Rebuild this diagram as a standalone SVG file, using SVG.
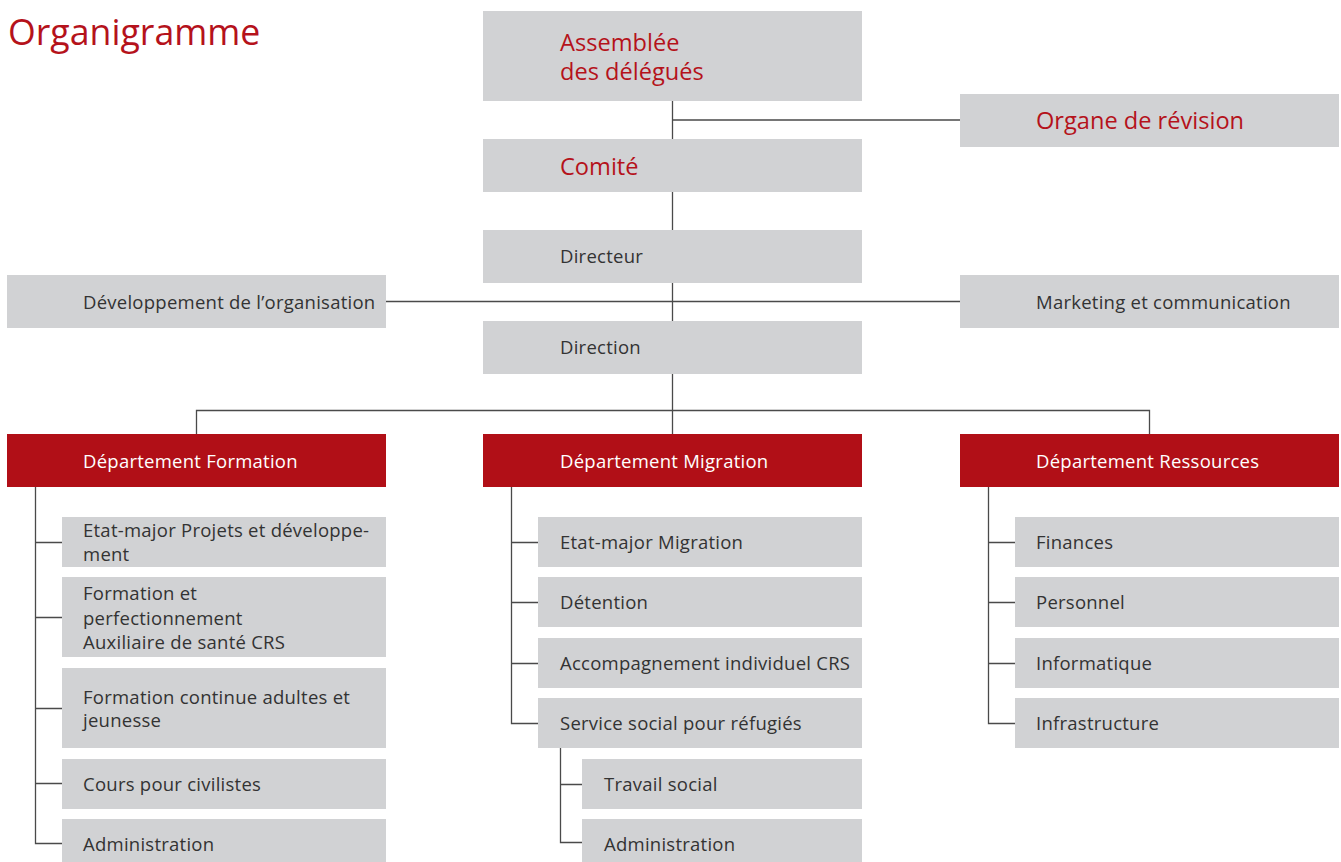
<svg xmlns="http://www.w3.org/2000/svg" width="1341" height="862" viewBox="0 0 1341 862">
<style>
.g{fill:#d1d2d4}
.r{fill:#b10f17}
.t{font-family:"Open Sans","Noto Sans",sans-serif;font-size:18.5px;letter-spacing:0.25px;fill:#333333}
.w{font-family:"Open Sans","Noto Sans",sans-serif;font-size:18.5px;letter-spacing:0.25px;fill:#ffffff}
.rt{font-family:"Open Sans","Noto Sans",sans-serif;font-size:23.6px;fill:#b5121b}
.c{fill:none;stroke:#4a4a4a;stroke-width:1.3}
</style>
<rect width="1341" height="862" fill="#ffffff"/>
<text x="8" y="45" font-family="'Open Sans','Noto Sans',sans-serif" font-size="35.7" fill="#b5121b">Organigramme</text>
<g id="connectors">
<path class="c" d="M672.5 101V139M672.5 120H960M672.5 192V230M672.5 283V321M386 301.5H960M672.5 374V434M196.5 434V410.5H1149.5V434"/>
<path class="c" d="M35.5 487V843.5H62M35.5 542.5H62M35.5 617.5H62M35.5 708.5H62M35.5 783.5H62"/>
<path class="c" d="M511.5 487V723.5H538M511.5 542.5H538M511.5 602.5H538M511.5 663.5H538"/>
<path class="c" d="M560.5 748V842.5H582M560.5 784.5H582"/>
<path class="c" d="M988.5 487V723.5H1015M988.5 542.5H1015M988.5 602.5H1015M988.5 663.5H1015"/>
</g>
<g id="assemblee"><rect class="g" x="483" y="11" width="379" height="90"/><text class="rt" x="560" y="51">Assemblée</text><text class="rt" x="560" y="80">des délégués</text></g>
<g id="organe"><rect class="g" x="960" y="94" width="379" height="53"/><text class="rt" x="1036" y="129">Organe de révision</text></g>
<g id="comite"><rect class="g" x="483" y="139" width="379" height="53"/><text class="rt" x="560" y="175">Comité</text></g>
<g id="directeur"><rect class="g" x="483" y="230" width="379" height="53"/><text class="t" x="560" y="263">Directeur</text></g>
<g id="developpement"><rect class="g" x="7" y="275" width="379" height="53"/><text class="t" x="83" y="309">Développement de l’organisation</text></g>
<g id="marketing"><rect class="g" x="960" y="275" width="379" height="53"/><text class="t" x="1036" y="309">Marketing et communication</text></g>
<g id="direction"><rect class="g" x="483" y="321" width="379" height="53"/><text class="t" x="560" y="354">Direction</text></g>
<g id="dep-formation"><rect class="r" x="7" y="434" width="379" height="53"/><text class="w" x="83" y="468">Département Formation</text></g>
<g id="dep-migration"><rect class="r" x="483" y="434" width="379" height="53"/><text class="w" x="560" y="468">Département Migration</text></g>
<g id="dep-ressources"><rect class="r" x="960" y="434" width="379" height="53"/><text class="w" x="1036" y="468">Département Ressources</text></g>
<g id="f1"><rect class="g" x="62" y="517" width="324" height="50"/><text class="t" x="83" y="537">Etat-major Projets et développe-</text><text class="t" x="83" y="561">ment</text></g>
<g id="f2"><rect class="g" x="62" y="577" width="324" height="80"/><text class="t" x="83" y="600">Formation et</text><text class="t" x="83" y="625">perfectionnement</text><text class="t" x="83" y="649">Auxiliaire de santé CRS</text></g>
<g id="f3"><rect class="g" x="62" y="668" width="324" height="80"/><text class="t" x="83" y="704">Formation continue adultes et</text><text class="t" x="83" y="727">jeunesse</text></g>
<g id="f4"><rect class="g" x="62" y="759" width="324" height="50"/><text class="t" x="83" y="791">Cours pour civilistes</text></g>
<g id="f5"><rect class="g" x="62" y="819" width="324" height="43"/><text class="t" x="83" y="851">Administration</text></g>
<g id="m1"><rect class="g" x="538" y="517" width="324" height="50"/><text class="t" x="560" y="549">Etat-major Migration</text></g>
<g id="m2"><rect class="g" x="538" y="577" width="324" height="50"/><text class="t" x="560" y="609">Détention</text></g>
<g id="m3"><rect class="g" x="538" y="638" width="324" height="50"/><text class="t" x="560" y="670">Accompagnement individuel CRS</text></g>
<g id="m4"><rect class="g" x="538" y="698" width="324" height="50"/><text class="t" x="560" y="730">Service social pour réfugiés</text></g>
<g id="m41"><rect class="g" x="582" y="759" width="280" height="50"/><text class="t" x="604" y="791">Travail social</text></g>
<g id="m42"><rect class="g" x="582" y="819" width="280" height="43"/><text class="t" x="604" y="851">Administration</text></g>
<g id="r1"><rect class="g" x="1015" y="517" width="324" height="50"/><text class="t" x="1036" y="549">Finances</text></g>
<g id="r2"><rect class="g" x="1015" y="577" width="324" height="50"/><text class="t" x="1036" y="609">Personnel</text></g>
<g id="r3"><rect class="g" x="1015" y="638" width="324" height="50"/><text class="t" x="1036" y="670">Informatique</text></g>
<g id="r4"><rect class="g" x="1015" y="698" width="324" height="50"/><text class="t" x="1036" y="730">Infrastructure</text></g>
</svg>
